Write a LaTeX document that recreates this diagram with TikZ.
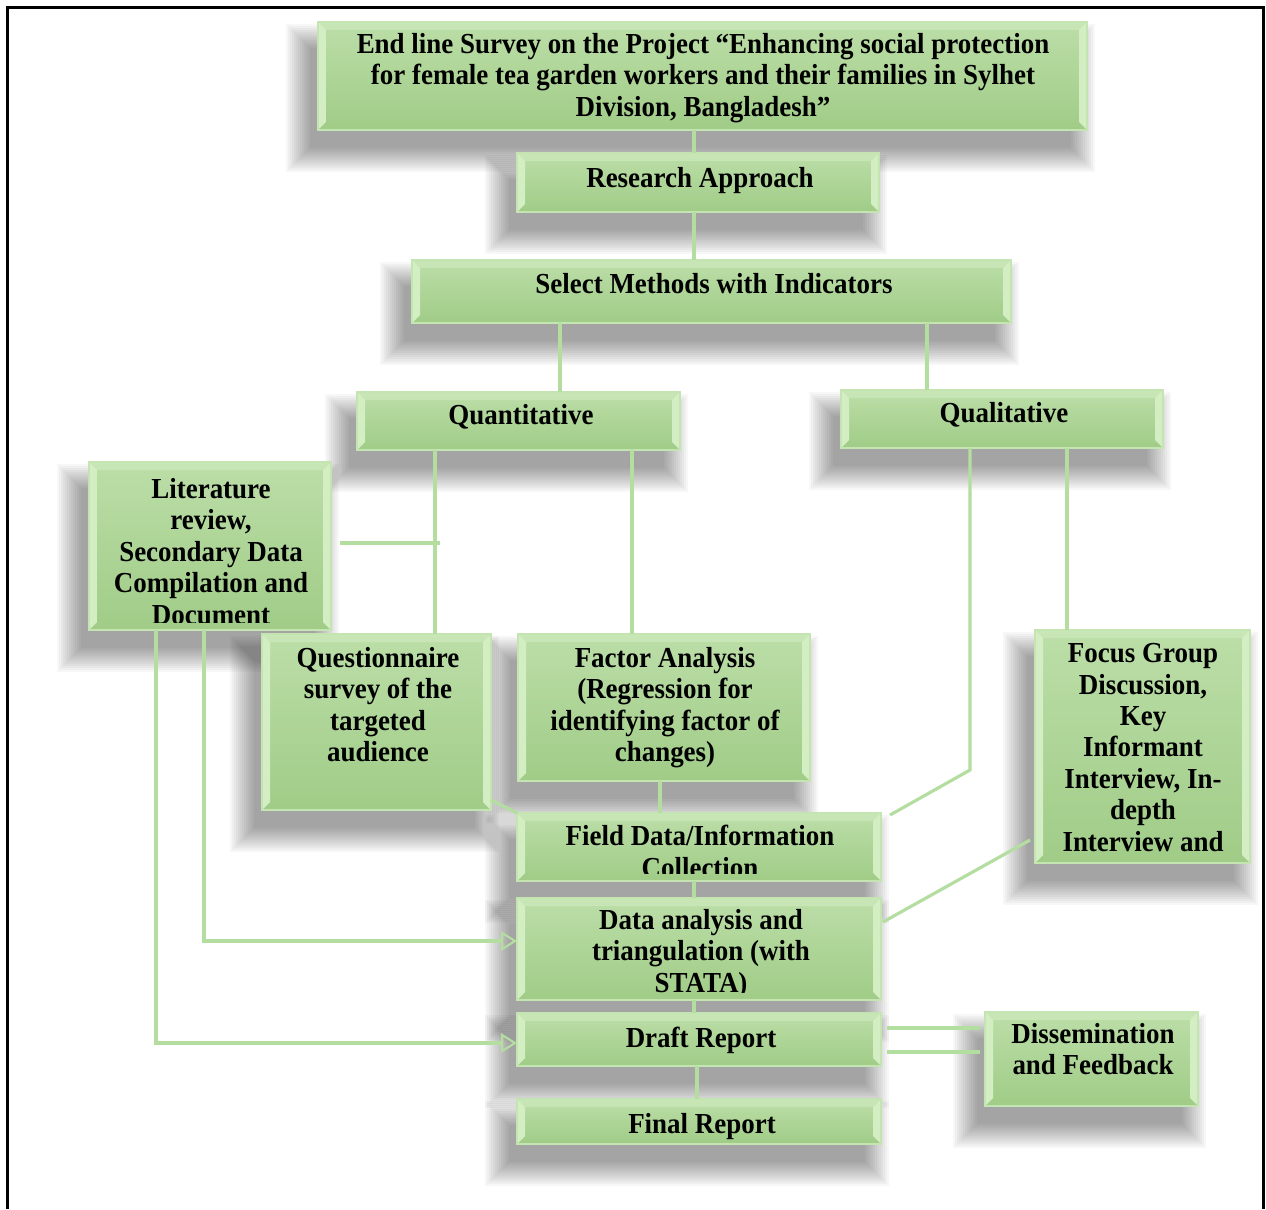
\documentclass[tikz,border=0pt]{standalone}
\usepackage{fontspec}
\setmainfont[FakeStretch=0.93]{Liberation Serif}
\usetikzlibrary{arrows.meta,calc}
\definecolor{boxtop}{RGB}{188,222,168}
\definecolor{boxbot}{RGB}{160,204,135}
\definecolor{bevL}{RGB}{212,238,196}
\definecolor{edgec}{RGB}{196,228,178}
\definecolor{linec}{RGB}{180,222,160}
\tikzset{
 gbox/.style={rectangle, inner sep=0pt, outer sep=0pt, top color=boxtop, bottom color=boxbot,
   draw=edgec, line width=0.8pt,
   path picture={
     \fill[bevL] (path picture bounding box.south west) -- ++(0.16cm,0.16cm)
        -- ([shift={(0.16cm,-0.16cm)}]path picture bounding box.north west)
        -- (path picture bounding box.north west) -- cycle;
     \fill[bevL] (path picture bounding box.south east) -- ++(-0.16cm,0.16cm)
        -- ([shift={(-0.16cm,-0.16cm)}]path picture bounding box.north east)
        -- (path picture bounding box.north east) -- cycle;
     \fill[bevL, opacity=0.5] (path picture bounding box.north west) -- ++(0.16cm,-0.16cm)
        -- ([shift={(-0.16cm,-0.16cm)}]path picture bounding box.north east)
        -- (path picture bounding box.north east) -- cycle;
   }},
 gtxt/.style={inner sep=0pt, anchor=north, align=center,
   font=\bfseries\fontsize{16.5}{17.9}\selectfont, execute at begin node=\strut},
 conn/.style={draw=linec, line width=1.8pt},
 arr/.style={conn, -{Triangle[open, length=9pt, width=11pt, line width=1.2pt]}},
 shd/.style={fill=black, opacity=0.03},
}
\newcommand\gshadow[4]{%
 \foreach \k [evaluate=\k as \e using 20-2*\k] in {0,...,12}{%
   \fill[shd] ({#1-12-\e},{#2+22-\e}) rectangle ({#3-12+\e},{#4+22+\e});}}
\newcommand\gbox[5]{%
 \pgfmathsetmacro\gw{(#4-#2)*0.02}\pgfmathsetmacro\gh{(#5-#3)*0.02}%
 \node[gbox, minimum width=\gw cm, minimum height=\gh cm] (#1) at ({(#2+#4)/2},{(#3+#5)/2}) {};}
\newcommand\gtext[4]{\node[gtxt] (#1) at (#2,#3) {#4};}
\newcommand\gctext[5]{\begin{scope}
 \clip ([shift={(0.14cm,0.16cm)}]#5.south west) rectangle ([shift={(-0.14cm,-0.14cm)}]#5.north east);
 \gtext{#1}{#2}{#3}{#4}\end{scope}}
\begin{document}
\begin{tikzpicture}[x=0.02cm, y=-0.02cm]
\useasboundingbox (0,0) rectangle (1266,1209);
\fill[white] (0,0) rectangle (1266,1209);
% shadows
\gshadow{318}{22}{1087}{130}
\gshadow{517}{153}{879}{212}
\gshadow{412}{260}{1011}{323}
\gshadow{357}{392}{680}{450}
\gshadow{841}{390}{1163}{448}
\gshadow{89}{462}{331}{630}
\gshadow{262}{634}{491}{810}
\gshadow{518}{634}{810}{781}
\gshadow{1035}{630}{1250}{863}
\gshadow{517}{813}{881}{881}
\gshadow{517}{898}{881}{1000}
\gshadow{517}{1013}{881}{1066}
\gshadow{985}{1012}{1198}{1106}
\gshadow{517}{1099}{881}{1144}
% boxes
\gbox{title}{318}{22}{1087}{130}
\gbox{ra}{517}{153}{879}{212}
\gbox{sm}{412}{260}{1011}{323}
\gbox{quant}{357}{392}{680}{450}
\gbox{qual}{841}{390}{1163}{448}
\gbox{lit}{89}{462}{331}{630}
\gbox{quest}{262}{634}{491}{810}
\gbox{fa}{518}{634}{810}{781}
\gbox{fg}{1035}{630}{1250}{863}
\gbox{field}{517}{813}{881}{881}
\gbox{da}{517}{898}{881}{1000}
\gbox{draft}{517}{1013}{881}{1066}
\gbox{diss}{985}{1012}{1198}{1106}
\gbox{final}{517}{1099}{881}{1144}
% texts
\gtext{titlet}{703}{33}{End line Survey on the Project “Enhancing social protection\\for female tea garden workers and their families in Sylhet\\Division, Bangladesh”}
\gtext{rat}{700}{165}{Research Approach}
\gtext{smt}{714}{271}{Select Methods with Indicators}
\gtext{quantt}{521}{402}{Quantitative}
\gtext{qualt}{1004}{400}{Qualitative}
\gctext{litt}{211}{478}{Literature\\review,\\Secondary Data\\Compilation and\\Document}{lit}
\gtext{questt}{378}{647}{Questionnaire\\survey of the\\targeted\\audience}
\gtext{fat}{665}{647}{Factor Analysis\\(Regression for\\identifying factor of\\changes)}
\gctext{fgt}{1143}{643}{Focus Group\\Discussion,\\Key\\Informant\\Interview, In-\\depth\\Interview and\\Observation}{fg}
\gctext{fieldt}{700}{825}{Field Data/Information\\Collection}{field}
\gctext{dat}{701}{909}{Data analysis and\\triangulation (with\\STATA)}{da}
\gtext{draftt}{701}{1025}{Draft Report}
\gtext{disst}{1093}{1023}{Dissemination\\and Feedback}
\gtext{finalt}{702}{1111}{Final Report}
% connectors
\coordinate (j1) at (440,543);
\coordinate (q1) at (970,770);
\draw[conn] (title.south -| 694,0) -- (ra.north -| 694,0);
\draw[conn] (ra.south -| 694,0) -- (sm.north -| 694,0);
\draw[conn] (sm.south -| 560,0) -- (quant.north -| 560,0);
\draw[conn] (sm.south -| 927,0) -- (qual.north -| 927,0);
\draw[conn] (quant.south -| 435,0) -- (quest.north -| 435,0);
\draw[conn] ([xshift=0.18cm]lit.east |- j1) -- (j1);
\draw[conn] (quant.south -| 632,0) -- (fa.north -| 632,0);
\draw[conn] (qual.south -| 970,0) -- (q1) -- ([xshift=0.18cm,yshift=-0.04cm]field.north east);
\draw[conn] (qual.south -| 1067,0) -- (fg.north -| 1067,0);
\draw[conn] (fa.south -| 660,0) -- (field.north -| 660,0);
\draw[conn] ([yshift=0.2cm]quest.south east) -- (field.north west);
\draw[conn] (field.south -| 694,0) -- (da.north -| 694,0);
\draw[conn] ([xshift=-0.1cm]fg.west |- 0,840) -- ([xshift=0.04cm]da.east |- 0,922);
\draw[arr] (lit.south -| 204,0) |- (da.west |- 0,941);
\draw[arr] (lit.south -| 156,0) |- (draft.west |- 0,1043);
\draw[conn] (da.south -| 694,0) -- (draft.north -| 694,0);
\draw[conn] (draft.south -| 697,0) -- (final.north -| 697,0);
\draw[conn] ([xshift=0.12cm]draft.east |- 0,1028) -- ([xshift=-0.1cm]diss.west |- 0,1028);
\draw[conn] ([xshift=0.12cm]draft.east |- 0,1052) -- ([xshift=-0.1cm]diss.west |- 0,1052);
% frame
\draw[line width=1.7pt, black] (7.5,1209) -- (7.5,7.5) -- (1263.5,7.5) -- (1263.5,1209);
\end{tikzpicture}
\end{document}
